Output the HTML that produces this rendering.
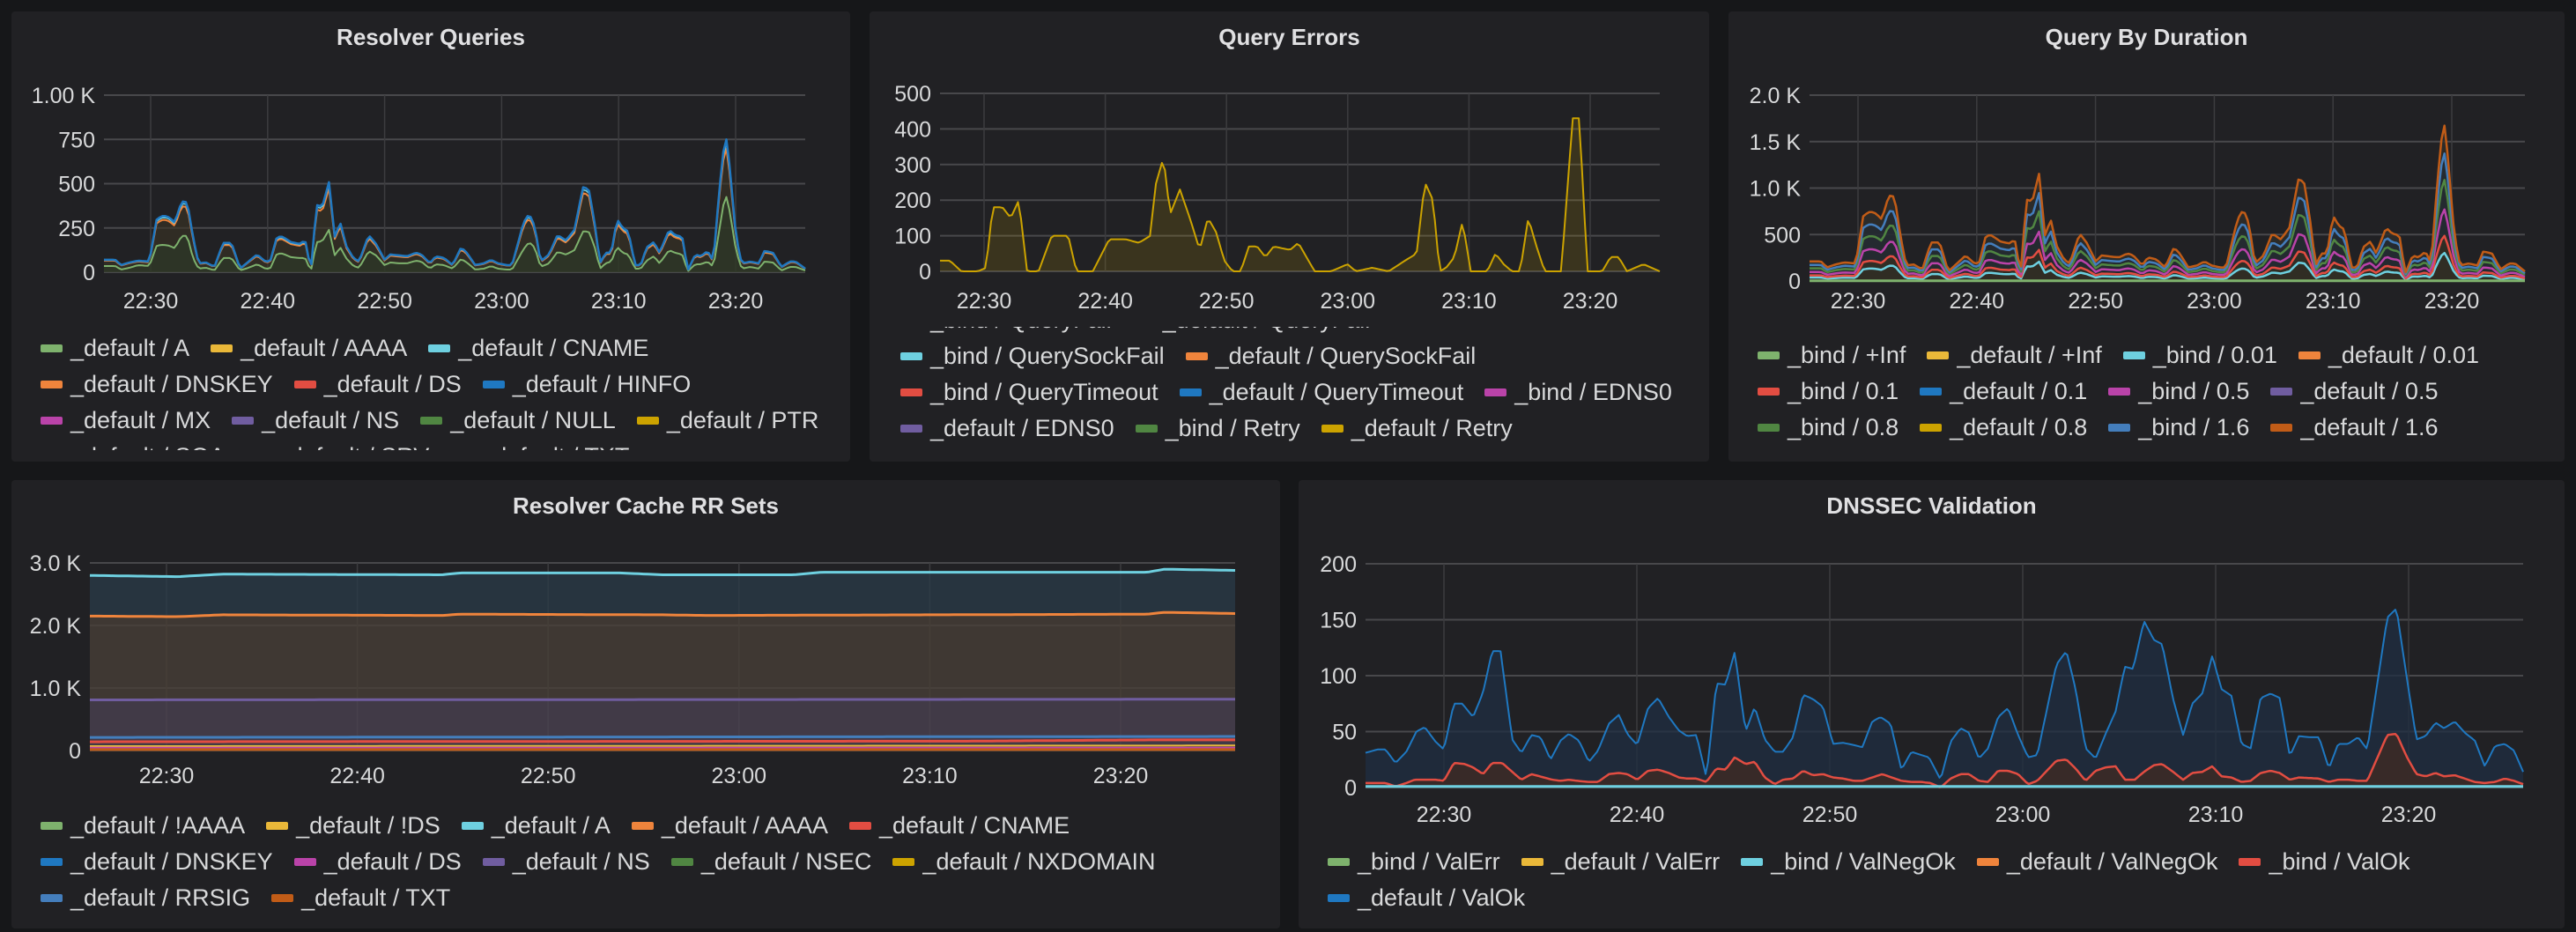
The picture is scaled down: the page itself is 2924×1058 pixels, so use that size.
<!DOCTYPE html>
<html><head><meta charset="utf-8"><style>
*{margin:0;padding:0;box-sizing:border-box}
body{width:2924px;height:1058px;background:#161719;position:relative;overflow:hidden;font-family:"Liberation Sans",sans-serif;color:#d8d9da}
.p{position:absolute;background:#212124;border-radius:4px;overflow:hidden}
.t{position:absolute;left:0;right:0;text-align:center;font-size:26px;font-weight:bold;color:#e0e0e2}
.lg{position:absolute;font-size:27px;color:#d8d9da;white-space:nowrap;overflow:hidden;right:0}
.row{height:41px;display:flex;align-items:center}
.it{display:flex;align-items:center;margin-right:24px}
.sw{width:25px;height:9px;border-radius:2px;margin-right:9px}
svg{position:absolute;left:0;top:0}
</style></head><body>
<div class="p" style="left:13px;top:13px;width:952px;height:511px"><div class="t" style="top:14px">Resolver Queries</div>
<div class="lg" style="left:33px;top:362px;height:136px">
<div class="row"><div class="it"><i class="sw" style="background:#7eb26d"></i>_default / A</div><div class="it"><i class="sw" style="background:#eab839"></i>_default / AAAA</div><div class="it"><i class="sw" style="background:#6ed0e0"></i>_default / CNAME</div></div>
<div class="row"><div class="it"><i class="sw" style="background:#ef843c"></i>_default / DNSKEY</div><div class="it"><i class="sw" style="background:#e24d42"></i>_default / DS</div><div class="it"><i class="sw" style="background:#1f78c1"></i>_default / HINFO</div></div>
<div class="row"><div class="it"><i class="sw" style="background:#ba43a9"></i>_default / MX</div><div class="it"><i class="sw" style="background:#705da0"></i>_default / NS</div><div class="it"><i class="sw" style="background:#508642"></i>_default / NULL</div><div class="it"><i class="sw" style="background:#cca300"></i>_default / PTR</div></div>
<div class="row"><div class="it"><i class="sw" style="background:#447ebc"></i>_default / SOA</div><div class="it"><i class="sw" style="background:#c15c17"></i>_default / SRV</div><div class="it"><i class="sw" style="background:#890f02"></i>_default / TXT</div></div>
</div></div>
<div class="p" style="left:987px;top:13px;width:953px;height:511px"><div class="t" style="top:14px">Query Errors</div>
<div class="lg" style="left:35px;top:358px;height:150px">
<div style="margin-top:-28px">
<div class="row"><div class="it"><i class="sw" style="background:#7eb26d"></i>_bind / QueryFail</div><div class="it"><i class="sw" style="background:#eab839"></i>_default / QueryFail</div></div>
<div class="row"><div class="it"><i class="sw" style="background:#6ed0e0"></i>_bind / QuerySockFail</div><div class="it"><i class="sw" style="background:#ef843c"></i>_default / QuerySockFail</div></div>
<div class="row"><div class="it"><i class="sw" style="background:#e24d42"></i>_bind / QueryTimeout</div><div class="it"><i class="sw" style="background:#1f78c1"></i>_default / QueryTimeout</div><div class="it"><i class="sw" style="background:#ba43a9"></i>_bind / EDNS0</div></div>
<div class="row"><div class="it"><i class="sw" style="background:#705da0"></i>_default / EDNS0</div><div class="it"><i class="sw" style="background:#508642"></i>_bind / Retry</div><div class="it"><i class="sw" style="background:#cca300"></i>_default / Retry</div></div>
</div></div></div>
<div class="p" style="left:1962px;top:13px;width:949px;height:511px"><div class="t" style="top:14px">Query By Duration</div>
<div class="lg" style="left:33px;top:370px">
<div class="row"><div class="it"><i class="sw" style="background:#7eb26d"></i>_bind / +Inf</div><div class="it"><i class="sw" style="background:#eab839"></i>_default / +Inf</div><div class="it"><i class="sw" style="background:#6ed0e0"></i>_bind / 0.01</div><div class="it"><i class="sw" style="background:#ef843c"></i>_default / 0.01</div></div>
<div class="row"><div class="it"><i class="sw" style="background:#e24d42"></i>_bind / 0.1</div><div class="it"><i class="sw" style="background:#1f78c1"></i>_default / 0.1</div><div class="it"><i class="sw" style="background:#ba43a9"></i>_bind / 0.5</div><div class="it"><i class="sw" style="background:#705da0"></i>_default / 0.5</div></div>
<div class="row"><div class="it"><i class="sw" style="background:#508642"></i>_bind / 0.8</div><div class="it"><i class="sw" style="background:#cca300"></i>_default / 0.8</div><div class="it"><i class="sw" style="background:#447ebc"></i>_bind / 1.6</div><div class="it"><i class="sw" style="background:#c15c17"></i>_default / 1.6</div></div>
</div></div>
<div class="p" style="left:13px;top:545px;width:1440px;height:509px"><div class="t" style="top:14px">Resolver Cache RR Sets</div>
<div class="lg" style="left:33px;top:372px">
<div class="row"><div class="it"><i class="sw" style="background:#7eb26d"></i>_default / !AAAA</div><div class="it"><i class="sw" style="background:#eab839"></i>_default / !DS</div><div class="it"><i class="sw" style="background:#6ed0e0"></i>_default / A</div><div class="it"><i class="sw" style="background:#ef843c"></i>_default / AAAA</div><div class="it"><i class="sw" style="background:#e24d42"></i>_default / CNAME</div></div>
<div class="row"><div class="it"><i class="sw" style="background:#1f78c1"></i>_default / DNSKEY</div><div class="it"><i class="sw" style="background:#ba43a9"></i>_default / DS</div><div class="it"><i class="sw" style="background:#705da0"></i>_default / NS</div><div class="it"><i class="sw" style="background:#508642"></i>_default / NSEC</div><div class="it"><i class="sw" style="background:#cca300"></i>_default / NXDOMAIN</div></div>
<div class="row"><div class="it"><i class="sw" style="background:#447ebc"></i>_default / RRSIG</div><div class="it"><i class="sw" style="background:#c15c17"></i>_default / TXT</div></div>
</div></div>
<div class="p" style="left:1474px;top:545px;width:1437px;height:509px"><div class="t" style="top:14px">DNSSEC Validation</div>
<div class="lg" style="left:33px;top:413px">
<div class="row"><div class="it"><i class="sw" style="background:#7eb26d"></i>_bind / ValErr</div><div class="it"><i class="sw" style="background:#eab839"></i>_default / ValErr</div><div class="it"><i class="sw" style="background:#6ed0e0"></i>_bind / ValNegOk</div><div class="it"><i class="sw" style="background:#ef843c"></i>_default / ValNegOk</div><div class="it"><i class="sw" style="background:#e24d42"></i>_bind / ValOk</div></div>
<div class="row"><div class="it"><i class="sw" style="background:#1f78c1"></i>_default / ValOk</div></div>
</div></div>
<svg id="s" width="2924" height="1058" xmlns="http://www.w3.org/2000/svg" font-family="Liberation Sans, sans-serif" font-size="25" fill="#d8d9da"></svg>
<script>
(function(){
var S=document.getElementById('s'),out='';
function ip(pts,x0,x1,n){var r=[];for(var i=0;i<n;i++){var x=x0+(x1-x0)*i/(n-1),j=0;while(j<pts.length-2&&pts[j+1][0]<x)j++;var a=pts[j],b=pts[j+1];var f=b[0]==a[0]?0:(x-a[0])/(b[0]-a[0]);f=Math.max(0,Math.min(1,f));r.push(a[1]+(b[1]-a[1])*f);}return r;}
function P(c){
 var g='';
 c.yt.forEach(function(v,i){var y=c.B-(c.B-c.T)*v/c.max;g+='<line x1="'+c.L+'" x2="'+c.R+'" y1="'+y+'" y2="'+y+'" stroke="#48484b" stroke-width="2"/>';g+='<text x="'+(c.L-10)+'" y="'+(y+9)+'" text-anchor="end">'+c.yl[i]+'</text>';});
 var lb=['22:30','22:40','22:50','23:00','23:10','23:20'];
 for(var k=0;k<6;k++){var x=c.x0+k*c.dx;g+='<line x1="'+x+'" x2="'+x+'" y1="'+c.T+'" y2="'+c.B+'" stroke="#3c3c3f" stroke-width="1.5"/>';g+='<text x="'+x+'" y="'+c.ly+'" text-anchor="middle">'+lb[k]+'</text>';}
 return g;}
function path(c,vals,close,base){var n=vals.length,d='';for(var i=0;i<n;i++){var x=c.L+(c.R-c.L)*i/(n-1),y=c.B-(c.B-c.T)*vals[i]/c.max;d+=(i?'L':'M')+x.toFixed(1)+','+y.toFixed(1);}
 if(close){if(base){for(var i=n-1;i>=0;i--){var x=c.L+(c.R-c.L)*i/(n-1),y=c.B-(c.B-c.T)*base[i]/c.max;d+='L'+x.toFixed(1)+','+y.toFixed(1);}}else d+='L'+c.R+','+c.B+'L'+c.L+','+c.B;d+='Z';}return d;}
function line(c,v,col,w){out+='<path d="'+path(c,v)+'" fill="none" stroke="'+col+'" stroke-width="'+(w||2)+'" stroke-linejoin="round"/>';}
function area(c,v,col,op,base){out+='<path d="'+path(c,v,1,base)+'" fill="'+col+'" fill-opacity="'+op+'"/>';}
var N=241;
var q=[[185,70,35],[205,70,35],[215,40,15],[230,55,25],[245,65,40],[265,60,35],[278,300,150],[290,320,155],[300,310,150],[310,280,135],[322,400,205],[332,395,205],[342,200,80],[352,50,20],[365,55,25],[380,30,10],[395,165,80],[410,165,80],[425,20,10],[440,60,25],[455,100,45],[470,60,20],[478,60,20],[490,200,105],[500,200,105],[515,170,85],[530,160,80],[540,180,80],[550,10,5],[560,380,170],[570,370,175],[582,510,240],[592,200,95],[602,280,140],[612,150,80],[625,80,35],[635,60,25],[652,210,120],[665,160,95],[680,70,40],[690,100,55],[705,95,50],[720,90,50],[735,110,65],[745,100,60],[760,50,20],[770,90,45],[785,80,40],[800,40,20],[815,140,75],[825,110,55],[840,40,15],[855,50,20],[868,70,35],[880,50,20],[895,40,15],[905,40,15],[925,280,130],[935,330,170],[945,260,140],[955,60,30],[970,100,50],[985,210,115],[1000,180,100],[1015,240,125],[1030,480,230],[1040,470,230],[1050,290,150],[1060,50,20],[1070,110,50],[1080,110,60],[1090,300,145],[1100,250,110],[1110,230,100],[1122,40,20],[1132,40,20],[1142,140,65],[1155,170,90],[1165,110,50],[1182,240,125],[1192,210,110],[1205,200,100],[1215,10,5],[1228,100,45],[1238,90,45],[1250,120,60],[1260,60,30],[1270,450,230],[1280,750,425],[1284,750,425],[1290,550,320],[1300,200,120],[1310,50,20],[1325,60,30],[1340,50,20],[1350,120,60],[1365,110,55],[1380,30,10],[1395,60,30],[1405,60,30],[1422,20,10]];
var tot=ip(q.map(function(a){return [a[0],a[1]]}),185,1422,N),ga=ip(q.map(function(a){return [a[0],a[2]]}),185,1422,N);
var c1={L:118,R:914,T:108,B:309,max:1000,yt:[0,250,500,750,1000],yl:['0','250','500','750','1.00 K'],x0:171,dx:132.8,ly:350};
out+=P(c1);
area(c1,tot,'#3a3424',0.6);area(c1,ga,'#2b3a28',0.6);
line(c1,ga,'#7eb26d',2);line(c1,tot.map(function(v){return v*0.93}),'#ef843c',2);line(c1,tot.map(function(v){return v*0.97}),'#6ed0e0',1.5);line(c1,tot,'#1f78c1',2.5);
var e=[[572,30],[578,30],[585,0],[595,0],[600,10],[604,180],[610,180],[615,150],[620,200],[625,0],[632,0],[640,100],[650,100],[655,0],[665,0],[675,90],[685,90],[693,80],[700,100],[703,240],[708,320],[712,160],[718,230],[724,150],[730,60],[735,150],[740,110],[745,30],[750,0],[755,0],[760,70],[765,70],[770,40],[775,70],[785,60],[790,80],[795,40],[800,0],[810,0],[820,20],[825,0],[835,10],[845,0],[855,30],[862,50],[867,250],[872,200],[876,0],[880,10],[885,40],[890,140],[895,0],[905,0],[910,50],[915,20],[920,0],[925,0],[930,150],[935,70],[940,0],[950,0],[957,430],[961,430],[966,0],[975,0],[980,40],[985,40],[990,0],[1000,20],[1005,10],[1010,0]];
var c2={L:1067,R:1884,T:106,B:308,max:500,yt:[0,100,200,300,400,500],yl:['0','100','200','300','400','500'],x0:1117,dx:137.6,ly:350};
out+=P(c2);var ev=ip(e,572,1010,N);area(c2,ev,'#cca300',0.15);line(c2,ev,'#cca300',2);
var c3={L:2054,R:2866,T:108,B:319,max:2000,yt:[0,500,1000,1500,2000],yl:['0','500','1.0 K','1.5 K','2.0 K'],x0:2109,dx:134.8,ly:350};
out+=P(c3);var tp=tot.map(function(v){return v*2.15+60});
area(c3,tp,'#302e2a',0.8);area(c3,tp.map(function(v){return v*0.82}),'#1f2a36',0.6);area(c3,tp.map(function(v){return v*0.29}),'#332e22',0.8);
[[0.18,'#6ed0e0'],[0.29,'#e24d42'],[0.46,'#ba43a9'],[0.65,'#508642'],[0.82,'#447ebc'],[1,'#c15c17']].forEach(function(s){line(c3,tp.map(function(v){return v*s[0]}),s[1],2.5)});
line(c3,tp.map(function(){return 3}),'#7eb26d',3);
var c4={L:102,R:1402,T:639,B:852,max:3000,yt:[0,1000,2000,3000],yl:['0','1.0 K','2.0 K','3.0 K'],x0:189,dx:216.6,ly:889};
out+=P(c4);
var cy=ip([[0,2800],[10,2780],[15,2820],[40,2810],[42,2840],[60,2840],[65,2810],[80,2810],[83,2850],[120,2850],[122,2900],[130,2880]],0,130,N);
var or=ip([[0,2150],[10,2140],[15,2170],[40,2160],[42,2180],[65,2170],[70,2160],[120,2180],[122,2210],[130,2190]],0,130,N);
var pu=ip([[0,810],[130,820]],0,130,N);
area(c4,cy,'#2a3b48',0.75,or);area(c4,or,'#473f37',0.8,pu);area(c4,pu,'#4a4150',0.8);
line(c4,cy,'#6ed0e0',3);line(c4,or,'#ef843c',3);line(c4,pu,'#705da0',3);
line(c4,ip([[0,210],[130,225]],0,130,N),'#447ebc',3);line(c4,ip([[0,140],[100,150],[120,170],[130,170]],0,130,N),'#e24d42',3);
line(c4,ip([[0,70],[130,80]],0,130,N),'#eab839',2);line(c4,ip([[0,40],[130,40]],0,130,N),'#ba43a9',3);line(c4,ip([[0,15],[130,15]],0,130,N),'#c15c17',3);
var b=[[106,31],[120,34],[130,34],[142,22],[155,32],[167,50],[177,54],[190,41],[200,34],[212,75],[222,75],[235,63],[247,85],[258,122],[268,122],[282,43],[293,31],[305,47],[316,45],[328,25],[340,42],[350,48],[362,42],[374,23],[385,33],[398,57],[410,65],[420,48],[432,38],[445,71],[457,80],[470,63],[482,51],[492,46],[503,47],[515,9],[527,93],[538,92],[549,121],[562,50],[573,72],[585,43],[597,32],[607,32],[619,45],[631,83],[643,79],[655,72],[667,39],[679,40],[692,38],[702,36],[714,59],[724,63],[736,57],[749,16],[761,32],[773,29],[782,27],[796,7],[808,41],[820,53],[830,49],[842,26],[853,35],[865,63],[877,71],[889,47],[901,27],[912,29],[935,110],[947,122],[958,88],[970,35],[982,26],[994,48],[1006,68],[1017,108],[1027,106],[1040,149],[1052,132],[1062,128],[1075,79],[1087,47],[1098,75],[1110,84],[1122,118],[1133,88],[1145,82],[1157,39],[1168,35],[1180,80],[1192,84],[1203,80],[1215,28],[1226,46],[1238,45],[1250,45],[1262,17],[1273,39],[1285,39],[1297,45],[1308,34],[1332,152],[1343,160],[1355,100],[1367,43],[1378,46],[1390,58],[1400,53],[1413,59],[1425,49],[1437,42],[1449,19],[1461,37],[1473,39],[1484,33],[1495,14]];
var r=[[106,4],[130,4],[142,1],[155,4],[165,7],[190,7],[200,6],[212,22],[225,21],[235,18],[247,12],[258,22],[270,22],[282,14],[293,7],[305,12],[330,7],[340,6],[350,7],[360,6],[374,5],[385,5],[398,12],[410,13],[420,12],[432,7],[445,15],[457,16],[470,13],[482,9],[492,8],[503,8],[515,5],[527,17],[538,16],[549,27],[562,21],[573,23],[585,9],[597,3],[607,7],[619,8],[631,15],[643,11],[655,12],[667,9],[679,8],[692,6],[702,6],[714,9],[726,12],[749,6],[761,5],[773,5],[784,4],[796,0],[808,8],[820,12],[830,12],[842,6],[853,5],[865,15],[877,15],[889,12],[901,3],[912,6],[935,24],[947,25],[958,17],[970,6],[982,15],[994,18],[1006,19],[1017,7],[1029,7],[1040,14],[1052,20],[1062,21],[1075,14],[1087,7],[1098,13],[1110,14],[1122,19],[1133,10],[1145,9],[1157,5],[1168,6],[1180,13],[1192,15],[1203,13],[1215,7],[1226,9],[1250,8],[1262,5],[1273,7],[1285,7],[1297,6],[1308,6],[1332,47],[1343,48],[1355,28],[1367,12],[1378,10],[1390,13],[1400,10],[1413,11],[1425,8],[1437,5],[1449,4],[1461,5],[1473,8],[1484,6],[1495,3]];
var c5={L:1550,R:2864,T:640,B:894,max:200,yt:[0,50,100,150,200],yl:['0','50','100','150','200'],x0:1639,dx:219,ly:933};
out+=P(c5);
function px(a){return a.map(function(p){return [(p[0]-106)*1314/1389+1550,p[1]]})}
function ip5(a){return ip(px(a),1550,2864,481)}
var bv=ip5(b),rv=ip5(r);
area(c5,bv,'#1f2d42',0.75);area(c5,rv,'#3b2a27',0.9);
line(c5,bv,'#1f78c1',2);line(c5,rv,'#e24d42',2.5);line(c5,bv.map(function(){return 1}),'#6ed0e0',3);
S.innerHTML=out;
})();
</script>
</body></html>
